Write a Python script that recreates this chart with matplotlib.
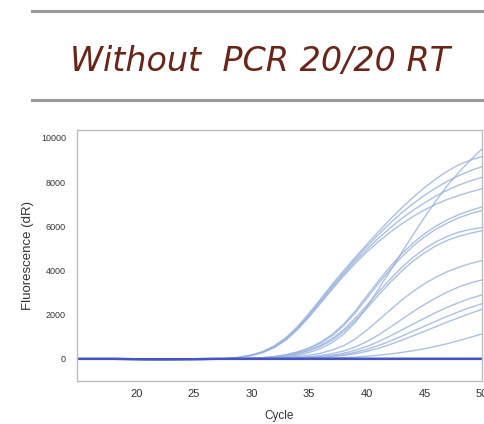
import matplotlib
matplotlib.use("Agg")
import matplotlib.pyplot as plt
from matplotlib.lines import Line2D

plt.rcParams['font.family'] = ['Liberation Sans', 'DejaVu Sans']

title = "Without  PCR 20/20 RT"
x_ticks = [20, 25, 30, 35, 40, 45, 50]
y_ticks = [0, 2000, 4000, 6000, 8000, 10000]

# cycles 15..27 share the same baseline, curves are read from cycle 28 on
early_cycles = list(range(15, 28))
late_cycles = list(range(28, 51))
baseline_dip = [0, 0, 0, 0, -5, -10, -15, -15, -15, -12, -10, -5, 0]

amp_curves = {
    "E1": [20, 80, 180, 340, 600, 970, 1470, 2070, 2720, 3380, 4000, 4600, 5180, 5750, 6300, 6820, 7300, 7750, 8150, 8500, 8790, 9000, 9160],
    "E2": [20, 75, 170, 320, 570, 930, 1420, 2010, 2650, 3300, 3920, 4520, 5080, 5620, 6130, 6600, 7020, 7400, 7740, 8040, 8300, 8520, 8700],
    "E3": [15, 70, 160, 300, 540, 890, 1370, 1950, 2580, 3220, 3840, 4420, 4960, 5460, 5920, 6340, 6720, 7060, 7370, 7640, 7870, 8060, 8220],
    "E4": [15, 65, 150, 290, 520, 860, 1330, 1900, 2520, 3150, 3760, 4320, 4840, 5300, 5720, 6100, 6440, 6740, 7000, 7220, 7400, 7560, 7700],
    "S":  [0, 0, 10, 25, 50, 95, 170, 290, 470, 740, 1120, 1650, 2330, 3150, 3950, 4800, 5600, 6400, 7150, 7850, 8450, 9000, 9500],
    "M1": [0, 10, 30, 60, 110, 190, 320, 500, 760, 1110, 1580, 2170, 2850, 3520, 4160, 4740, 5240, 5660, 6010, 6300, 6530, 6720, 6880],
    "M2": [0, 10, 28, 55, 100, 180, 300, 470, 710, 1050, 1510, 2080, 2740, 3400, 4030, 4600, 5100, 5520, 5870, 6150, 6390, 6570, 6720],
    "M3": [0, 8, 22, 45, 85, 150, 255, 400, 620, 920, 1330, 1840, 2420, 3020, 3590, 4120, 4590, 4980, 5300, 5550, 5740, 5860, 5950],
    "M4": [0, 6, 20, 40, 75, 135, 230, 370, 570, 850, 1240, 1730, 2290, 2880, 3440, 3960, 4420, 4800, 5120, 5370, 5550, 5690, 5800],
    "L1": [0, 0, 10, 20, 40, 70, 110, 170, 260, 400, 600, 900, 1300, 1750, 2200, 2650, 3050, 3400, 3700, 3950, 4150, 4320, 4450],
    "L2": [0, 0, 5, 10, 20, 40, 65, 100, 160, 240, 360, 540, 780, 1080, 1420, 1780, 2130, 2460, 2760, 3030, 3260, 3440, 3575],
    "L3": [0, 0, 0, 5, 15, 25, 45, 70, 110, 170, 260, 390, 560, 780, 1030, 1300, 1570, 1840, 2100, 2340, 2550, 2740, 2900],
    "L4": [0, 0, 0, 5, 10, 20, 35, 55, 85, 130, 200, 300, 430, 600, 800, 1020, 1250, 1480, 1710, 1930, 2140, 2330, 2500],
    "L5": [0, 0, 0, 0, 5, 15, 25, 40, 65, 100, 155, 235, 340, 480, 650, 840, 1040, 1250, 1460, 1670, 1870, 2060, 2250],
    "L6": [0, 0, 0, 0, 0, 5, 10, 15, 25, 40, 60, 85, 120, 165, 220, 290, 370, 460, 570, 690, 830, 980, 1130],
}
negative_curve = [0] * len(late_cycles)

cycles = early_cycles + late_cycles

fig = plt.figure(figsize=(4.85, 4.24), dpi=100)

# grey rules above and below the title
fig.add_artist(Line2D([0.066, 1.0], [0.975, 0.975], color='#9a9a9a', lw=2.2))
fig.add_artist(Line2D([0.066, 1.0], [0.764, 0.764], color='#9a9a9a', lw=2.2))
fig.text(0.536, 0.856, title, ha='center', va='center', fontsize=24,
         style='italic', color='#6b2418', family='DejaVu Sans')

ax = fig.add_axes([0.1588, 0.1014, 0.835, 0.592])

for name, vals in amp_curves.items():
    ax.plot(cycles, baseline_dip + vals, color='#98b1dc', lw=1.0, alpha=0.8)

for k in range(3):
    ax.plot(cycles, baseline_dip + negative_curve, color='#4454c4', lw=1.6)

ax.set_xlim(14.85, 49.6)
ax.set_ylim(-1000, 10360)
ax.set_xticks(x_ticks)
ax.set_yticks(y_ticks)
ax.tick_params(axis='x', length=0, labelsize=8, colors='#333333', pad=6)
ax.tick_params(axis='y', length=0, labelsize=6.5, colors='#333333', pad=8)
for sp in ax.spines.values():
    sp.set_color('#bdbdbd')
    sp.set_linewidth(1.0)

ax.set_xlabel("Cycle", fontsize=8.5, color='#333333', labelpad=8)
ax.set_ylabel("Fluorescence (dR)", fontsize=9.5, color='#333333', labelpad=5)

fig.savefig("out.png", dpi=100)
